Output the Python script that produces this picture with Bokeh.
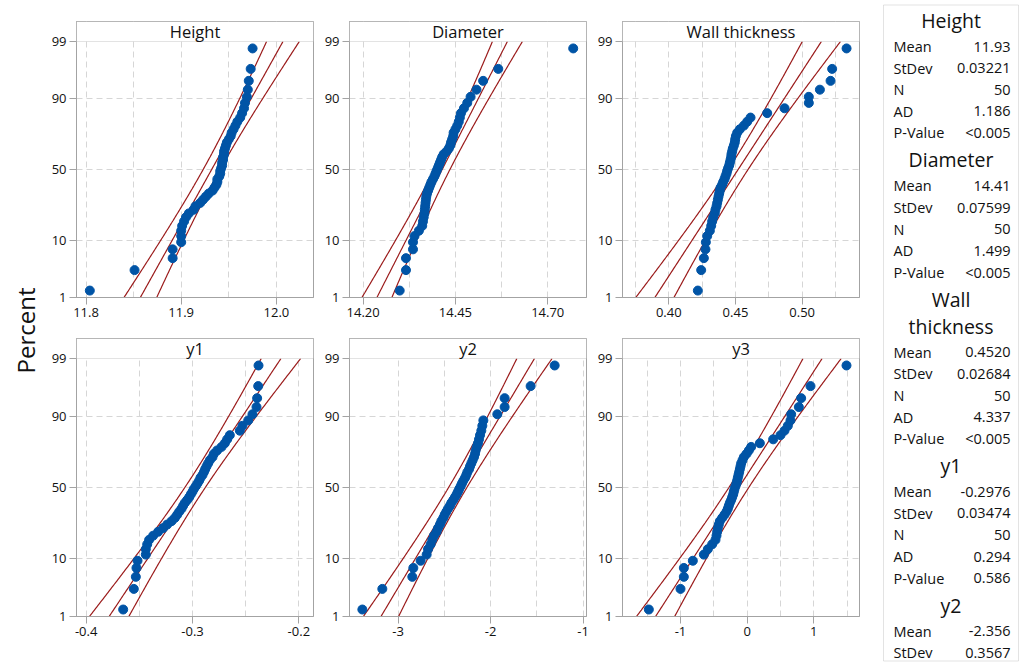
import math
from statistics import NormalDist
from bokeh.plotting import figure
from bokeh.models import (Range1d, FixedTicker, CustomJSTickFormatter, BoxAnnotation,
                          Label, ColumnDataSource)
from bokeh.layouts import row, column
from bokeh.embed import file_html
from bokeh.resources import INLINE
from bokeh.core.properties import value

# ---------------- data ----------------
titles = ["Height", "Diameter", "Wall thickness", "y1", "y2", "y3"]

height = [11.804, 11.851, 11.891, 11.891, 11.900, 11.900, 11.900, 11.901, 11.903, 11.905,
          11.908, 11.913, 11.915, 11.920, 11.923, 11.926, 11.929, 11.933, 11.935, 11.937,
          11.938, 11.938, 11.940, 11.941, 11.941, 11.942, 11.943, 11.943, 11.944, 11.944,
          11.945, 11.945, 11.946, 11.947, 11.948, 11.950, 11.952, 11.953, 11.955, 11.957,
          11.959, 11.962, 11.964, 11.966, 11.967, 11.969, 11.970, 11.971, 11.973, 11.975]

diameter = [14.299, 14.316, 14.316, 14.335, 14.335, 14.339, 14.351, 14.360, 14.362, 14.364,
            14.366, 14.367, 14.368, 14.369, 14.370, 14.371, 14.373, 14.376, 14.379, 14.382,
            14.385, 14.389, 14.393, 14.396, 14.399, 14.402, 14.405, 14.408, 14.411, 14.414,
            14.418, 14.426, 14.432, 14.436, 14.438, 14.441, 14.444, 14.445, 14.450, 14.455,
            14.459, 14.462, 14.465, 14.473, 14.482, 14.491, 14.507, 14.525, 14.566, 14.769]

wall = [0.4218, 0.4243, 0.4263, 0.4275, 0.4278, 0.4288, 0.4308, 0.4318, 0.4325, 0.4333,
        0.4345, 0.4350, 0.4358, 0.4363, 0.4368, 0.4373, 0.4378, 0.4383, 0.4388, 0.4400,
        0.4408, 0.4418, 0.4425, 0.4433, 0.4438, 0.4445, 0.4453, 0.4458, 0.4463, 0.4468,
        0.4470, 0.4475, 0.4480, 0.4488, 0.4495, 0.4498, 0.4503, 0.4513, 0.4533, 0.4563,
        0.4588, 0.4613, 0.4738, 0.4868, 0.5050, 0.5050, 0.5133, 0.5213, 0.5225, 0.5333]

y1 = [-0.3652, -0.3552, -0.3527, -0.3533, -0.3517, -0.3439, -0.3439, -0.3426, -0.3408, -0.3370,
      -0.3323, -0.3276, -0.3238, -0.3197, -0.3166, -0.3144, -0.3125, -0.3103, -0.3088, -0.3072,
      -0.3050, -0.3031, -0.3016, -0.3000, -0.2987, -0.2969, -0.2953, -0.2937, -0.2925, -0.2906,
      -0.2893, -0.2881, -0.2868, -0.2853, -0.2837, -0.2812, -0.2799, -0.2768, -0.2727, -0.2696,
      -0.2674, -0.2649, -0.2555, -0.2530, -0.2476, -0.2436, -0.2398, -0.2392, -0.2382, -0.2379]

y2 = [-3.387, -3.171, -2.847, -2.836, -2.757, -2.692, -2.677, -2.649, -2.631, -2.613,
      -2.584, -2.569, -2.548, -2.533, -2.512, -2.497, -2.479, -2.461, -2.440, -2.425,
      -2.404, -2.386, -2.368, -2.353, -2.339, -2.324, -2.310, -2.295, -2.277, -2.263,
      -2.252, -2.234, -2.223, -2.209, -2.195, -2.180, -2.169, -2.162, -2.151, -2.137,
      -2.126, -2.115, -2.101, -2.090, -2.079, -1.928, -1.849, -1.849, -1.568, -1.308]

y3 = [-1.475, -1.000, -0.950, -0.950, -0.815, -0.650, -0.590, -0.525, -0.475, -0.460,
      -0.450, -0.440, -0.425, -0.410, -0.375, -0.340, -0.310, -0.290, -0.275, -0.260,
      -0.240, -0.225, -0.210, -0.200, -0.190, -0.175, -0.160, -0.150, -0.140, -0.130,
      -0.120, -0.110, -0.100, -0.090, -0.070, -0.050, -0.010, 0.025, 0.060, 0.190,
      0.390, 0.500, 0.560, 0.610, 0.650, 0.660, 0.775, 0.810, 0.950, 1.490]

series = [height, diameter, wall, y1, y2, y3]

# fitted normal parameters (fit line and 95% CI)
fit_mean = [11.932, 14.414, 0.4520, -0.2976, -2.356, -0.125]
fit_sd = [0.03221, 0.07599, 0.02684, 0.03474, 0.3567, 0.537]

# axes
x_limits = [(11.790, 12.039), (14.163, 14.805), (0.3653, 0.5430),
            (-0.4091, -0.1862), (-3.526, -0.964), (-1.870, 1.685)]
x_ticks = [[11.8, 11.9, 12.0], [14.20, 14.45, 14.70], [0.40, 0.45, 0.50],
           [-0.4, -0.3, -0.2], [-3.0, -2.0, -1.0], [-1.0, 0.0, 1.0]]
x_tick_labels = [["11.8", "11.9", "12.0"], ["14.20", "14.45", "14.70"], ["0.40", "0.45", "0.50"],
                 ["-0.4", "-0.3", "-0.2"], ["-3", "-2", "-1"], ["-1", "0", "1"]]
x_grid = [[11.8, 11.85, 11.9, 11.95, 12.0],
          [14.2, 14.325, 14.45, 14.575, 14.7],
          [0.375, 0.4, 0.425, 0.45, 0.475, 0.5, 0.525],
          [-0.4, -0.35, -0.3, -0.25, -0.2],
          [-3.0, -2.5, -2.0, -1.5, -1.0],
          [-1.5, -1.0, -0.5, 0.0, 0.5, 1.0, 1.5]]
pct_ticks = [1, 10, 50, 90, 99]
pct_labels = ["1", "10", "50", "90", "99"]

# summary table (only what is visible)
stat_names = ["Mean", "StDev", "N", "AD", "P-Value"]
tbl_titles = [["Height"], ["Diameter"], ["Wall", "thickness"], ["y1"], ["y2"]]
tbl_values = [["11.93", "0.03221", "50", "1.186", "<0.005"],
              ["14.41", "0.07599", "50", "1.499", "<0.005"],
              ["0.4520", "0.02684", "50", "4.337", "<0.005"],
              ["-0.2976", "0.03474", "50", "0.294", "0.586"],
              ["-2.356", "0.3567"]]

# ---------------- styling ----------------
BLUE = "#0054a6"
RED = "#9b1c1c"
GRAY = "#a3a3a3"
GRIDC = "#d6d6d6"
TXT = "#111111"
FONT = "Open Sans"

nd = NormalDist()
Z = [nd.inv_cdf(p / 100.0) for p in pct_ticks]
Z1, Z99 = Z[0], Z[-1]


def tick_fmt(ticks, labels):
    return CustomJSTickFormatter(args=dict(t=list(ticks), l=list(labels)), code="""
        for (let i = 0; i < t.length; i++) { if (Math.abs(t[i] - tick) < 1e-9) { return l[i]; } }
        return "";
    """)


def panel(k, top_border, frame_h, strip_px=20):
    data = sorted(series[k])
    n = len(data)
    zp = [nd.inv_cdf((i + 1 - 0.3) / (n + 0.4)) for i in range(n)]
    plot_px = frame_h - strip_px
    ytop = Z99 + strip_px / plot_px * (Z99 - Z1)
    x0, x1 = x_limits[k]
    p = figure(frame_width=237, frame_height=frame_h,
               x_range=Range1d(x0, x1), y_range=Range1d(Z1, ytop),
               min_border_left=30, min_border_right=6,
               min_border_top=top_border, min_border_bottom=30,
               toolbar_location=None, output_backend="svg",
               background_fill_color="white", border_fill_color="white")
    p.outline_line_color = GRAY
    p.xaxis.ticker = FixedTicker(ticks=x_ticks[k])
    p.xaxis.formatter = tick_fmt(x_ticks[k], x_tick_labels[k])
    p.yaxis.ticker = FixedTicker(ticks=Z)
    p.yaxis.formatter = tick_fmt(Z, pct_labels)
    for ax in (p.xaxis[0], p.yaxis[0]):
        ax.axis_line_color = GRAY
        ax.major_tick_line_color = GRAY
        ax.major_tick_out = 7
        ax.major_tick_in = 0
        ax.minor_tick_line_color = None
        ax.major_label_text_font = FONT
        ax.major_label_text_font_size = "13px"
        ax.major_label_text_color = TXT
        ax.major_label_standoff = 3
    p.xgrid.ticker = FixedTicker(ticks=x_grid[k])
    p.ygrid.ticker = FixedTicker(ticks=Z[1:-1])
    for g in (p.xgrid[0], p.ygrid[0]):
        g.grid_line_color = GRIDC
        g.grid_line_dash = "6 4"
        g.grid_line_width = 1

    # fitted line with 95% confidence band
    m, s = fit_mean[k], fit_sd[k]
    steps = 160
    zs = [Z1 + (Z99 - Z1) * j / steps for j in range(steps + 1)]
    mid = [m + s * z for z in zs]
    half = [1.96 * s * math.sqrt((1 + z * z / 2) / 50.0) for z in zs]
    p.line([a - h for a, h in zip(mid, half)], zs, line_color=RED, line_width=1.2)
    p.line(mid, zs, line_color=RED, line_width=1.2)
    p.line([a + h for a, h in zip(mid, half)], zs, line_color=RED, line_width=1.2)

    p.scatter(data, zp, size=9, fill_color=BLUE, line_color=BLUE)

    strip = BoxAnnotation(bottom=Z99, fill_color="white", fill_alpha=1.0,
                          line_color=GRAY, line_width=1)
    p.add_layout(strip)
    p.add_layout(Label(x=(x0 + x1) / 2, y=(Z99 + ytop) / 2, text=titles[k],
                       text_align="center", text_baseline="middle",
                       text_font=FONT, text_font_size="16.5px", text_color=TXT))
    return p


top = [panel(k, 21, 276) for k in range(3)]
bot = [panel(k, 11, 278) for k in range(3, 6)]

# "Percent" label
pct = figure(width=46, height=646, x_range=Range1d(0, 46), y_range=Range1d(646, 0),
             min_border=0, toolbar_location=None, output_backend="svg")
pct.axis.visible = False
pct.grid.visible = False
pct.outline_line_color = None
pct.add_layout(Label(x=24.5, y=330, text="Percent", angle=math.pi / 2,
                     text_align="center", text_baseline="middle",
                     text_font=FONT, text_font_size="24px", text_color=TXT))

# summary table
tbl = figure(width=159, height=662, x_range=Range1d(865, 1024), y_range=Range1d(662, 0),
             min_border=0, toolbar_location=None, output_backend="svg")
tbl.axis.visible = False
tbl.grid.visible = False
tbl.outline_line_color = None
tbl.add_layout(BoxAnnotation(left=883, right=1018, top=4.5, bottom=660.5,
                             fill_alpha=0, line_color=GRAY, line_width=1))

t_x, t_y, t_txt = [], [], []
l_x, l_y, l_txt = [], [], []
v_x, v_y, v_txt = [], [], []
y = 20.0
for sec, (tt, vals) in enumerate(zip(tbl_titles, tbl_values)):
    for j, line in enumerate(tt):
        if j > 0:
            y += 27.0
        t_x.append(950.5); t_y.append(y); t_txt.append(line)
    y += 26.0
    for r, (nm, vv) in enumerate(zip(stat_names, vals)):
        if r > 0:
            y += 21.6
        l_x.append(893); l_y.append(y); l_txt.append(nm)
        v_x.append(1010); v_y.append(y); v_txt.append(vv)
    y += 27.0

tbl.text(x=t_x, y=t_y, text=t_txt, text_align="center", text_baseline="middle",
         text_font=value(FONT), text_font_size=value("19.5px"), text_color=TXT)
tbl.text(x=l_x, y=l_y, text=l_txt, text_align="left", text_baseline="middle",
         text_font=value(FONT), text_font_size=value("14.5px"), text_color=TXT)
tbl.text(x=v_x, y=v_y, text=v_txt, text_align="right", text_baseline="middle",
         text_font=value(FONT), text_font_size=value("14.5px"), text_color=TXT)

layout = row(pct, column(row(*top), row(*bot)), tbl)
open("out.html", "w").write(file_html(layout, INLINE))
